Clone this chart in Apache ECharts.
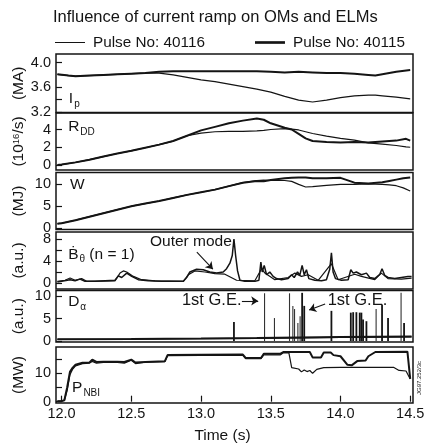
<!DOCTYPE html>
<html>
<head>
<meta charset="utf-8">
<script src="https://cdn.jsdelivr.net/npm/echarts@6/dist/echarts.min.js"></script>
<style>
  html, body { margin: 0; padding: 0; background: #fff; }
  #chart { width: 425px; height: 446px; }
</style>
</head>
<body>
<div id="chart"></div>
<script>
// ---- Plasma current I_p (MA) ----
const ipTime  = [11.97, 12.05, 12.1, 12.2, 12.3, 12.4, 12.5, 12.6, 12.7, 12.8, 12.9, 13.0, 13.1, 13.2, 13.3, 13.4, 13.5, 13.6, 13.7, 13.8, 13.9, 14.0, 14.1, 14.2, 14.25, 14.3, 14.4, 14.5];
const ip40115 = [3.81, 3.79, 3.78, 3.79, 3.80, 3.81, 3.82, 3.83, 3.85, 3.86, 3.86, 3.86, 3.86, 3.86, 3.86, 3.86, 3.85, 3.84, 3.85, 3.84, 3.83, 3.83, 3.82, 3.80, 3.79, 3.81, 3.85, 3.88];
const ip40116 = [3.81, 3.79, 3.78, 3.79, 3.80, 3.81, 3.82, 3.83, 3.83, 3.80, 3.76, 3.72, 3.69, 3.65, 3.61, 3.57, 3.52, 3.45, 3.39, 3.36, 3.39, 3.43, 3.46, 3.47, 3.47, 3.46, 3.44, 3.41];

// ---- DD neutron rate R_DD (10^16/s) ----
const rddTime  = [11.97, 12.0, 12.1, 12.2, 12.3, 12.4, 12.5, 12.6, 12.7, 12.8, 12.9, 13.0, 13.1, 13.2, 13.3, 13.4, 13.45, 13.5, 13.6, 13.65, 13.7, 13.75, 13.8, 13.9, 14.0, 14.1, 14.2, 14.3, 14.4, 14.47, 14.5];
const rdd40115 = [0.0, 0.05, 0.3, 0.6, 0.95, 1.3, 1.6, 1.95, 2.3, 2.7, 3.3, 3.9, 4.3, 4.7, 5.0, 5.25, 5.1, 4.7, 4.2, 4.0, 3.5, 3.0, 2.7, 2.6, 2.55, 2.6, 2.55, 2.65, 2.75, 2.95, 2.75];
const rdd40116 = [0.0, 0.05, 0.3, 0.6, 0.95, 1.3, 1.6, 1.95, 2.3, 2.7, 3.3, 3.6, 3.75, 3.8, 3.8, 3.85, 3.9, 4.0, 4.1, 4.05, 3.95, 3.75, 3.55, 3.25, 3.0, 2.8, 2.5, 2.35, 2.2, 2.05, 2.0];

// ---- Stored energy W (MJ) ----
const wTime  = [11.97, 12.0, 12.1, 12.2, 12.3, 12.4, 12.5, 12.6, 12.7, 12.8, 12.9, 13.0, 13.1, 13.2, 13.3, 13.4, 13.45, 13.5, 13.6, 13.65, 13.7, 13.75, 13.8, 13.9, 14.0, 14.1, 14.2, 14.3, 14.35, 14.4, 14.45, 14.5];
const w40115 = [1.0, 1.1, 1.8, 2.6, 3.4, 4.2, 5.0, 5.6, 6.2, 6.9, 7.6, 8.2, 8.8, 9.6, 10.4, 10.8, 10.7, 11.0, 11.4, 11.5, 11.6, 11.6, 11.4, 11.4, 11.5, 10.4, 10.2, 10.5, 10.8, 11.1, 11.4, 11.6];
const w40116 = [1.0, 1.1, 1.8, 2.6, 3.4, 4.2, 5.0, 5.6, 6.2, 6.9, 7.6, 8.2, 8.8, 9.6, 10.4, 10.9, 11.0, 10.9, 10.9, 10.7, 10.0, 9.4, 9.5, 9.8, 10.0, 10.0, 10.1, 10.0, 9.9, 9.7, 9.2, 8.5];

// ---- n = 1 magnetic signal (a.u.) ----
const bTime40115 = [11.97, 12.001, 12.061, 12.097, 12.132, 12.168, 12.240, 12.312, 12.383, 12.407, 12.431, 12.467, 12.503, 12.550, 12.622, 12.717, 12.813, 12.873, 12.897, 12.920, 12.968, 13.016, 13.064, 13.112, 13.159, 13.183, 13.207, 13.224, 13.236, 13.248, 13.262, 13.279, 13.314, 13.386, 13.415, 13.429, 13.439, 13.453, 13.470, 13.493, 13.517, 13.541, 13.577, 13.625, 13.649, 13.668, 13.692, 13.708, 13.725, 13.740, 13.756, 13.773, 13.816, 13.864, 13.899, 13.923, 13.935, 13.947, 13.964, 14.007, 14.055, 14.074, 14.091, 14.114, 14.150, 14.186, 14.210, 14.246, 14.282, 14.298, 14.317, 14.341, 14.389, 14.437, 14.484, 14.51];
const b40115     = [0.2, 0.3, 0.6, 0.4, 0.7, 0.3, 0.3, 0.4, 0.5, 1.3, 1.0, 1.8, 1.2, 0.6, 0.4, 0.3, 0.3, 0.3, 1.0, 2.0, 2.5, 2.4, 2.0, 1.8, 2.0, 2.6, 3.6, 5.0, 8.0, 5.0, 2.2, 0.5, 0.3, 0.3, 0.5, 3.8, 2.0, 3.2, 1.5, 2.0, 1.2, 0.8, 0.6, 0.8, 1.5, 1.0, 2.0, 1.4, 3.2, 1.5, 2.4, 0.8, 0.5, 0.4, 0.6, 2.5, 5.5, 2.0, 0.8, 0.5, 0.6, 2.4, 1.8, 2.0, 1.5, 1.8, 1.0, 0.8, 1.6, 2.6, 1.4, 1.0, 0.8, 1.0, 1.2, 1.2];
const bTime40116 = [11.97, 12.025, 12.061, 12.097, 12.144, 12.180, 12.383, 12.419, 12.443, 12.467, 12.515, 12.574, 12.670, 12.873, 12.909, 12.956, 13.028, 13.100, 13.171, 13.255, 13.386, 13.434, 13.458, 13.529, 13.625, 13.673, 13.720, 13.768, 13.840, 13.935, 13.983, 14.102, 14.150, 14.246, 14.293, 14.341, 14.437, 14.51];
const b40116     = [0.3, 0.5, 0.9, 0.5, 0.8, 0.3, 0.4, 1.8, 2.2, 2.0, 1.2, 0.6, 0.4, 0.3, 1.5, 2.2, 2.0, 1.7, 1.6, 0.5, 0.4, 2.6, 1.8, 0.6, 1.0, 1.8, 1.2, 1.5, 0.5, 3.5, 0.6, 1.6, 1.2, 0.6, 1.8, 0.8, 0.7, 0.9];

// ---- D-alpha emission (a.u.): baseline plus ELM spikes ----
const dBaseTime  = [11.97, 12.5, 13.0, 13.4, 13.7, 14.0, 14.51];
const dBase40115 = [0.4, 0.45, 0.55, 0.65, 0.8, 0.9, 1.0];
const dBase40116 = [0.35, 0.4, 0.5, 0.6, 0.7, 0.8, 0.9];
const dTime40115 = [13.236, 13.725, 13.740, 13.935, 14.074, 14.091, 14.114, 14.138, 14.150, 14.162, 14.186, 14.298, 14.341, 14.456];
const dPeak40115 = [4.2, 10.7, 7.8, 6.7, 6.3, 6.4, 6.4, 6.3, 6.3, 4.8, 4.4, 8.1, 5.1, 4.0];
const dTime40116 = [13.458, 13.529, 13.637, 13.661, 13.673, 13.697, 13.713, 14.258, 14.437];
const dPeak40116 = [10.6, 5.1, 10.6, 7.8, 7.1, 4.0, 5.5, 7.1, 10.7];

// ---- Neutral beam power P_NBI (MW) ----
const pTime40115 = [11.97, 12.0, 12.02, 12.04, 12.06, 12.08, 12.1, 12.15, 12.2, 12.22, 12.25, 12.3, 12.4, 12.45, 12.5, 12.53, 12.6, 12.74, 12.76, 13.0, 13.3, 13.32, 13.43, 13.45, 13.57, 13.59, 13.78, 13.8, 13.86, 13.88, 13.93, 13.95, 14.0, 14.05, 14.08, 14.12, 14.18, 14.2, 14.25, 14.48, 14.5];
const p40115     = [0.2, 0.2, 0.5, 5.0, 10.5, 12.0, 13.0, 13.7, 13.8, 14.8, 14.0, 14.1, 14.1, 14.0, 14.8, 13.8, 14.0, 14.2, 16.4, 16.5, 16.6, 15.4, 15.4, 16.9, 16.9, 17.5, 17.5, 15.6, 15.6, 17.3, 17.3, 16.4, 16.0, 13.0, 12.8, 14.3, 14.5, 16.0, 17.5, 17.6, 8.0];
const pTime40116 = [11.97, 12.0, 12.02, 12.04, 12.06, 12.08, 12.1, 12.15, 12.2, 12.22, 12.25, 12.3, 12.4, 12.45, 12.5, 12.53, 12.6, 12.74, 12.76, 13.0, 13.3, 13.32, 13.43, 13.45, 13.57, 13.59, 13.63, 13.65, 13.7, 13.72, 13.74, 13.76, 13.78, 13.8, 13.83, 13.88, 14.0, 14.38, 14.42, 14.47, 14.5];
const p40116     = [0.2, 0.2, 0.5, 4.0, 9.5, 11.5, 12.6, 13.4, 13.6, 14.2, 13.6, 13.8, 13.8, 13.6, 14.6, 13.4, 13.9, 14.1, 16.2, 16.3, 16.3, 15.2, 15.2, 16.5, 16.5, 17.2, 17.2, 12.0, 11.5, 10.5, 11.2, 10.6, 11.0, 10.0, 11.4, 12.0, 12.1, 12.1, 11.0, 10.8, 8.0];

// ---- Axis ticks ----
const timeTicks  = [12.0, 12.5, 13.0, 13.5, 14.0, 14.5];
const ipTicks    = [3.2, 3.4, 3.6, 4.0];
const ipLabels   = [3.2, 3.6, 4.0];
const rddTicks   = [0, 2, 4];
const wTicks     = [0, 5, 10];
const bTicks     = [0, 2, 4, 6, 8];
const bLabels    = [0, 4, 8];
const dTicks     = [0, 5, 10];
const pTicks     = [0, 5, 10, 15];
const pLabels    = [0, 10];

const NAME_A = 'Pulse No: 40116';
const NAME_B = 'Pulse No: 40115';
const FONT = '"Liberation Sans", Arial, Helvetica, sans-serif';
const INK = '#141414';
const THIN = 1.2, THICK = 2.0;
const TICK_FS = 14.5, TEXT_FS = 15.5;

const zip = (xs, ys) => xs.map((x, i) => [x, ys[i]]);

// panel layout
const panels = [
  { top: 54,    height: 58.5, min: 3.189, max: 4.14,  ticks: ipTicks,  labels: ipLabels, dec: 1, unit: '(MA)' },
  { top: 113,   height: 57,   min: -0.56, max: 5.86,  ticks: rddTicks, labels: rddTicks, dec: 0, unit: '{n|(10}{sup|16}{n|/s)}' },
  { top: 172.5, height: 57,   min: -0.34, max: 12.73, ticks: wTicks,   labels: wTicks,   dec: 0, unit: '(MJ)' },
  { top: 232,   height: 57,   min: -1.09, max: 9.27,  ticks: bTicks,   labels: bLabels,  dec: 0, unit: '(a.u.)' },
  { top: 290.5, height: 51.5, min: -0.22, max: 11.22, ticks: dTicks,   labels: dTicks,   dec: 0, unit: '(a.u.)' },
  { top: 347,   height: 56,   min: -0.46, max: 19.26, ticks: pTicks,   labels: pLabels,  dec: 0, unit: '(MW)' }
];
const X_MIN = 11.96, X_MAX = 14.52;
const last = panels.length - 1;

const grids = panels.map(p => ({
  left: 56, right: 12, top: p.top, height: p.height,
  show: true, borderColor: INK, borderWidth: 1.5, backgroundColor: 'transparent',
  containLabel: false, outerBoundsMode: 'none'
}));

const xAxes = panels.map((p, i) => ({
  type: 'value', gridIndex: i, min: X_MIN, max: X_MAX,
  axisLine: { show: false },
  splitLine: { show: false },
  axisTick: { show: i === last, inside: true, length: 6, customValues: timeTicks, lineStyle: { color: INK, width: 1.2 } },
  axisLabel: { show: i === last, customValues: timeTicks, margin: 3, color: INK, fontSize: TICK_FS, fontFamily: FONT,
               formatter: v => v.toFixed(1) },
  name: i === last ? 'Time (s)' : '', nameLocation: 'middle', nameGap: 25, nameMoveOverlap: false,
  nameTextStyle: { color: INK, fontSize: TEXT_FS, fontFamily: FONT, padding: [0, 24, 0, 0] }
}));

const yAxes = panels.map((p, i) => ({
  type: 'value', gridIndex: i, min: p.min, max: p.max,
  axisLine: { show: false },
  splitLine: { show: false },
  axisTick: { show: true, inside: true, length: 6, customValues: p.ticks, lineStyle: { color: INK, width: 1.2 } },
  axisLabel: { customValues: p.labels, margin: 5, color: INK, fontSize: TICK_FS, fontFamily: FONT,
               formatter: v => v.toFixed(p.dec) },
  name: p.unit, nameLocation: 'middle', nameRotate: 90, nameGap: 29, nameMoveOverlap: false,
  nameTextStyle: { color: INK, fontSize: TEXT_FS, fontFamily: FONT,
    rich: { n: { fontSize: TEXT_FS, fontFamily: FONT, color: INK },
            sup: { fontSize: 9.5, fontFamily: FONT, color: INK, verticalAlign: 'top', padding: [0, 0, 6, 0] } } }
}));

function line(name, gi, data, width, extra) {
  return Object.assign({
    type: 'line', name: name, xAxisIndex: gi, yAxisIndex: gi, data: data,
    symbol: 'none', showSymbol: false, animation: false, silent: true,
    lineStyle: { color: INK, width: width }, itemStyle: { color: INK }
  }, extra || {});
}
function spikes(name, gi, data, width, color) {
  return {
    type: 'bar', name: name, xAxisIndex: gi, yAxisIndex: gi, data: data,
    barWidth: width, barGap: '-100%', animation: false, silent: true,
    itemStyle: { color: color }
  };
}
function arrow(from, to, curve) {
  return {
    silent: true, animation: false, symbol: ['none', 'arrow'], symbolSize: 7,
    label: { show: false },
    lineStyle: { color: INK, width: 1.1, type: 'solid', curveness: curve || 0 },
    data: [[{ coord: from }, { coord: to }]]
  };
}

const series = [
  line(NAME_A, 0, zip(ipTime, ip40116), THIN),
  line(NAME_B, 0, zip(ipTime, ip40115), THICK),
  line(NAME_A, 1, zip(rddTime, rdd40116), THIN),
  line(NAME_B, 1, zip(rddTime, rdd40115), THICK),
  line(NAME_A, 2, zip(wTime, w40116), THIN),
  line(NAME_B, 2, zip(wTime, w40115), THICK),
  line(NAME_A, 3, zip(bTime40116, b40116), THIN),
  line(NAME_B, 3, zip(bTime40115, b40115), 1.5, { markLine: arrow([12.97, 5.6], [13.085, 2.5], -0.3) }),
  spikes('D-alpha 40116', 4, zip(dTime40116, dPeak40116), 1.1, '#333333'),
  spikes('D-alpha 40115', 4, zip(dTime40115, dPeak40115), 1.8, INK),
  line(NAME_A, 4, zip(dBaseTime, dBase40116), THIN, { markLine: arrow([13.293, 8.9], [13.41, 8.9]) }),
  line(NAME_B, 4, zip(dBaseTime, dBase40115), THICK, { markLine: arrow([13.89, 8.2], [13.775, 6.9]) }),
  line(NAME_A, 5, zip(pTime40116, p40116), THIN),
  line(NAME_B, 5, zip(pTime40115, p40115), THICK)
];

const chart = echarts.init(document.getElementById('chart'), null, { renderer: 'canvas' });
chart.setOption({
  backgroundColor: '#ffffff',
  animation: false,
  textStyle: { fontFamily: FONT },
  title: {
    text: 'Influence of current ramp on OMs and ELMs',
    left: 53, top: 9, padding: 0,
    textStyle: { color: INK, fontSize: 16.5, fontWeight: 'normal', fontFamily: FONT }
  },
  legend: {
    left: 55, top: 35, padding: 0, itemWidth: 30, itemHeight: 14, itemGap: 50,
    selectedMode: false,
    textStyle: { color: INK, fontSize: 15.3, fontFamily: FONT, padding: [0, 0, 0, 3] },
    data: [
      { name: NAME_A, icon: 'path://M0,0H30V1H0Z', itemStyle: { color: INK } },
      { name: NAME_B, icon: 'path://M0,0H27V2.4H0Z', itemStyle: { color: INK } }
    ]
  },
  grid: grids,
  xAxis: xAxes,
  yAxis: yAxes,
  series: series
});

// Panel names and annotations, anchored in each panel's data coordinates
const sub = {
  a: { fontSize: TEXT_FS, fontFamily: FONT, color: INK },
  s: { fontSize: 10, fontFamily: FONT, color: INK, padding: [10, 0, 0, 1] },
  b: { fontSize: 16.5, fontFamily: FONT, color: INK }
};
const notes = [
  { g: 0, at: [12.052, 3.41], text: '{a|I}{s|p}' },
  { g: 1, at: [12.047, 4.28], text: '{a|R}{s|DD}' },
  { g: 2, at: [12.06, 10.0],  text: '{a|W}' },
  { g: 3, at: [12.047, 5.2],  text: '{a|Ḃ}{s|θ}{a| (n = 1)}' },
  { g: 4, at: [12.047, 8.67], text: '{a|D}{s|α}' },
  { g: 5, at: [12.075, 4.8],  text: '{a|P}{s|NBI}' },
  { g: 3, at: [12.634, 7.45], text: '{a|Outer mode}' },
  { g: 4, at: [12.863, 8.9],  text: '{b|1st G.E.}' },
  { g: 4, at: [13.908, 8.9],  text: '{b|1st G.E.}' }
];
const graphic = notes.map(n => {
  const p = chart.convertToPixel({ gridIndex: n.g }, n.at);
  return { type: 'text', x: p[0], y: p[1], silent: true,
           style: { text: n.text, rich: sub, fill: INK, align: 'left', verticalAlign: 'middle' } };
});
graphic.push({
  type: 'text', x: 419, y: 395, rotation: Math.PI / 2, silent: true,
  style: { text: 'JG97.252/3c', fontSize: 6, fontFamily: FONT, fill: INK, align: 'left', verticalAlign: 'middle' }
});
chart.setOption({ graphic: graphic });
</script>
</body>
</html>
